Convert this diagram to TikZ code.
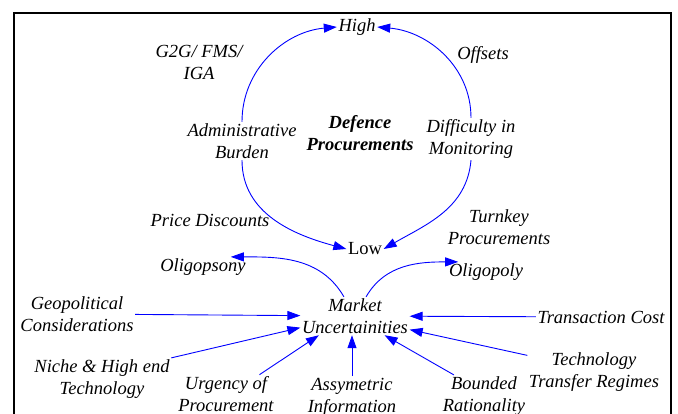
\documentclass[tikz,border=0pt]{standalone}
\usepackage{fontspec}
\setmainfont{Liberation Serif}
\usetikzlibrary{arrows.meta}

\begin{document}
\begin{tikzpicture}[x=10pt,y=10pt,
  lbl/.style={font=\fontsize{18.5}{22}\selectfont\itshape, align=center},
  link/.style={draw=blue, line width=0.9pt, -{Triangle[length=13pt,width=9pt]}}]
\tikzstyle{every node}+=[inner sep=1.5pt]
\useasboundingbox (0,0) rectangle (67.8,-41.3);
\draw [black, line width=1.4pt] (1.4,-45) -- (1.4,-1.3) -- (67.1,-1.3) -- (67.1,-45);
% loop
\draw (35.7,-2.7) node [lbl] (high) {High};
\draw (36.5,-24.9) node [lbl, font=\fontsize{18.5}{22}\selectfont] (low) {Low};
\draw (24.2,-14.1) node [lbl] (adm) {Administrative\\Burden};
\draw (47.1,-13.9) node [lbl] (diff) {Difficulty in\\Monitoring};
\draw (36.0,-13.3) node [lbl, font=\fontsize{18.5}{22}\selectfont\bfseries\itshape] (dp) {Defence\\Procurements};
\draw (19.9,-6.2) node [lbl] (g2g) {G2G/ FMS/\\IGA};
\draw (48.3,-5.5) node [lbl] (offs) {Offsets};
\draw (21.0,-22.0) node [lbl] (price) {Price Discounts};
\draw (49.9,-22.7) node [lbl] (turn) {Turnkey\\Procurements};
\draw [link] (adm.north) to [out=90, in=185] (high.west);
\draw [link] (diff.north) to [out=90, in=-5] (high.east);
\draw [link] (adm.south) to [out=-90, in=165] (low.west);
\draw [link] (diff.south) to [out=-95, in=30] (low.east);
% market
\draw (35.5,-31.6) node [lbl] (mkt) {Market\\Uncertainities};
\draw (20.3,-26.7) node [lbl] (olgs) {Oligopsony};
\draw (48.6,-27.2) node [lbl] (olgp) {Oligopoly};
\draw [link] (mkt.120) to [out=120, in=0] (olgs.20);
\draw [link] (mkt.60) to [out=60, in=180] (olgp.160);
% causes
\draw (7.7,-31.4) node [lbl] (geo) {Geopolitical\\Considerations};
\draw (10.2,-37.9) node [lbl] (niche) {Niche \& High end\\Technology};
\draw (22.6,-39.4) node [lbl] (urg) {Urgency of\\Procurement};
\draw (35.2,-39.7) node [lbl] (asym) {Assymetric\\Information};
\draw (48.4,-39.6) node [lbl] (bnd) {Bounded\\Rationality};
\draw (60.1,-31.7) node [lbl] (trans) {Transaction Cost};
\draw (59.4,-37.2) node [lbl] (tech) {Technology\\Transfer Regimes};
\draw [link] (geo) -- (mkt);
\draw [link] (niche.north east) -- (mkt.192);
\draw [link] (urg.30) -- (mkt.208);
\draw [link] (asym.north) -- (asym.north |- mkt.south);
\draw [link] (bnd.145) -- (mkt.-33);
\draw [link] (tech.166) -- (mkt.-14);
\draw [link] (trans) -- (mkt);
\end{tikzpicture}
\end{document}
